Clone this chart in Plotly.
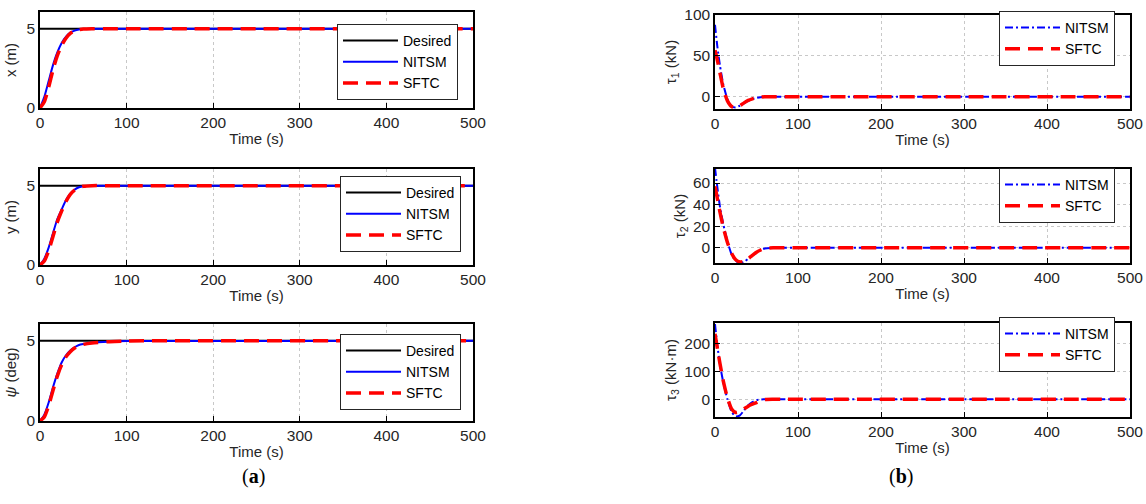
import plotly.graph_objects as go

# ---------------- data ----------------
t_pos = [0, 5, 10, 15, 20, 25, 30, 35, 40, 45, 50, 60, 80, 100, 500]
x_desired = [5] * len(t_pos)
x_nitsm = [0, 0.7, 1.7, 2.7, 3.5, 4.1, 4.5, 4.75, 4.88, 4.95, 4.98, 5.0, 5.0, 5.0, 5.0]
x_sftc = [0, 0.4, 1.3, 2.4, 3.3, 3.95, 4.4, 4.7, 4.86, 4.94, 4.98, 5.0, 5.0, 5.0, 5.0]
y_nitsm = [0, 0.4, 1.1, 2.0, 2.9, 3.5, 4.1, 4.5, 4.75, 4.9, 4.97, 5.0, 5.0, 5.0, 5.0]
y_sftc = [0, 0.25, 0.9, 1.8, 2.7, 3.4, 4.0, 4.45, 4.72, 4.88, 4.96, 5.0, 5.0, 5.0, 5.0]
psi_nitsm = [0, 0.4, 1.15, 2.1, 2.95, 3.65, 4.1, 4.4, 4.6, 4.74, 4.8, 4.88, 4.95, 4.99, 5.0]
psi_sftc = [0, 0.25, 0.95, 1.9, 2.8, 3.5, 4.0, 4.32, 4.55, 4.7, 4.78, 4.87, 4.95, 4.99, 5.0]

t_tau = [0, 3, 6, 10, 15, 20, 25, 30, 35, 40, 45, 50, 55, 60, 70, 80, 100, 500]
tau1_nitsm = [88, 60, 38, 15, -3, -12, -13, -11, -8, -5, -3, -1.5, -0.5, 0, 0, 0, 0, 0]
tau1_sftc = [57, 44, 29, 10, -5, -12, -13, -11, -7.5, -4.5, -2.5, -1, -0.3, 0, 0, 0, 0, 0]
tau2_nitsm = [74, 55, 38, 22, 6, -6, -12, -14, -13, -10, -7, -4.5, -2, -0.5, 0, 0, 0, 0]
tau2_sftc = [57, 45, 33, 19, 5, -5, -11, -13, -12.5, -10, -7, -4, -2, -0.5, 0, 0, 0, 0]
tau3_nitsm = [270, 190, 125, 60, 0, -45, -62, -58, -40, -22, -10, -3, -1, 0, 0, 0, 0, 0]
tau3_sftc = [235, 180, 128, 65, 5, -35, -48, -45, -35, -25, -18, -12, -5, -1, 0, 0, 0, 0]

left_titles = ["x (m)", "y (m)", "<i>ψ</i> (deg)"]
right_titles = ["τ<sub>1</sub> (kN)", "τ<sub>2</sub> (kN)", "τ<sub>3</sub> (kN·m)"]
x_ticks = [0, 100, 200, 300, 400, 500]

# ---------------- layout helpers ----------------
W, H = 1146, 504
FONT = "Liberation Sans, Arial, sans-serif"
TXT = "#262626"

def xd(a, b):
    return [a / W, b / W]

def yd(top, bot):
    return [1 - bot / H, 1 - top / H]

left_x = xd(40, 473)
right_x = xd(715, 1130)
left_rows = [(12, 108), (169, 265), (324, 421)]
right_rows = [(15, 109), (169, 263), (323, 417)]

fig = go.Figure()

RED_DASH = "15px,8px"
BLUE_DASHDOT = "8px,3px,2px,3px"

axis_common = dict(
    showline=True, linecolor="#000000", linewidth=1.5, mirror=True,
    ticks="inside", ticklen=5, tickcolor="#000000", tickwidth=1,
    showgrid=True, gridcolor="#c8c8c8", griddash="dot", gridwidth=1,
    zeroline=False, automargin=False,
    tickfont=dict(family=FONT, size=15.5, color=TXT),
    title_font=dict(family=FONT, size=15, color=TXT),
)

left_sets = [(x_nitsm, x_sftc), (y_nitsm, y_sftc), (psi_nitsm, psi_sftc)]
right_sets = [(tau1_nitsm, tau1_sftc, [-15, 100], [0, 50, 100]),
              (tau2_nitsm, tau2_sftc, [-14, 73], [0, 20, 40, 60]),
              (tau3_nitsm, tau3_sftc, [-64, 274], [0, 100, 200])]

left_legend_boxes = [(458, 100), (461, 252), (461, 410)]
right_legend_boxes = [(1115, 66), (1115, 223), (1115, 372)]

legend_common = dict(xanchor="right", yanchor="bottom",
                     bgcolor="#ffffff", bordercolor="#262626", borderwidth=1,
                     font=dict(family=FONT, size=14, color="#000000"),
                     tracegroupgap=0, itemwidth=55)

layout_upd = {}
ax = 1
for i, (nit, sf) in enumerate(left_sets):
    xa = "x" if ax == 1 else f"x{ax}"
    ya = "y" if ax == 1 else f"y{ax}"
    lg = "legend" if ax == 1 else f"legend{ax}"
    fig.add_trace(go.Scatter(x=t_pos, y=x_desired, mode="lines", name="Desired",
                             line=dict(color="#000000", width=2), xaxis=xa, yaxis=ya, legend=lg))
    fig.add_trace(go.Scatter(x=t_pos, y=nit, mode="lines", name="NITSM",
                             line=dict(color="#0000ff", width=2, shape="spline", smoothing=0.6),
                             xaxis=xa, yaxis=ya, legend=lg))
    fig.add_trace(go.Scatter(x=t_pos, y=sf, mode="lines", name="SFTC",
                             line=dict(color="#ff0000", width=3.5, dash=RED_DASH, shape="spline", smoothing=0.6),
                             xaxis=xa, yaxis=ya, legend=lg))
    sfx = "" if ax == 1 else str(ax)
    top, bot = left_rows[i]
    layout_upd["xaxis" + sfx] = dict(axis_common, domain=left_x, range=[0, 500], tickvals=x_ticks,
                                     anchor=ya, title=dict(text="Time (s)", standoff=3))
    layout_upd["yaxis" + sfx] = dict(axis_common, domain=yd(top, bot), range=[0, 6.05], tickvals=[0, 5],
                                     anchor=xa, title=dict(text=left_titles[i], standoff=6))
    rx, by = left_legend_boxes[i]
    layout_upd[lg] = dict(legend_common, x=rx / W, y=1 - by / H)
    ax += 1

for i, (nit, sf, yr, yt) in enumerate(right_sets):
    xa = f"x{ax}"
    ya = f"y{ax}"
    lg = f"legend{ax}"
    fig.add_trace(go.Scatter(x=t_tau, y=nit, mode="lines", name="NITSM",
                             line=dict(color="#0000ff", width=2, dash=BLUE_DASHDOT, shape="spline", smoothing=0.6),
                             xaxis=xa, yaxis=ya, legend=lg))
    fig.add_trace(go.Scatter(x=t_tau, y=sf, mode="lines", name="SFTC",
                             line=dict(color="#ff0000", width=3.5, dash=RED_DASH, shape="spline", smoothing=0.6),
                             xaxis=xa, yaxis=ya, legend=lg))
    top, bot = right_rows[i]
    layout_upd["xaxis" + str(ax)] = dict(axis_common, domain=right_x, range=[0, 500], tickvals=x_ticks,
                                         anchor=ya, title=dict(text="Time (s)", standoff=3))
    layout_upd["yaxis" + str(ax)] = dict(axis_common, domain=yd(top, bot), range=yr, tickvals=yt,
                                         anchor=xa, title=dict(text=right_titles[i], standoff=4))
    rx, by = right_legend_boxes[i]
    layout_upd[lg] = dict(legend_common, x=rx / W, y=1 - by / H)
    ax += 1

fig.update_layout(**layout_upd)
fig.update_layout(
    width=W, height=H, margin=dict(l=0, r=0, t=0, b=0),
    paper_bgcolor="#ffffff", plot_bgcolor="#ffffff",
    annotations=[
        dict(text="(<b>a</b>)", x=240 / W, y=1 - 490 / H, xref="paper", yref="paper",
             showarrow=False, font=dict(family="Liberation Serif, serif", size=20, color="#000000")),
        dict(text="(<b>b</b>)", x=915 / W, y=1 - 490 / H, xref="paper", yref="paper",
             showarrow=False, font=dict(family="Liberation Serif, serif", size=20, color="#000000")),
    ],
)

fig.write_html("out.html")
